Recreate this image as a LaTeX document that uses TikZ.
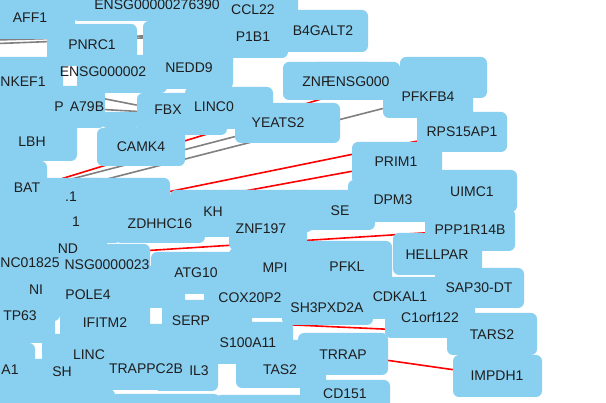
\documentclass[tikz,border=0pt]{standalone}
\usepackage{fontspec}
\setmainfont{Liberation Sans}
\pgfdeclarelayer{back}
\pgfdeclarelayer{edges}
\pgfdeclarelayer{labels}
\pgfsetlayers{back,edges,main,labels}
\definecolor{nodeblue}{RGB}{137,207,240}
\definecolor{txt}{RGB}{30,30,30}
\definecolor{edgegray}{RGB}{128,128,128}
\definecolor{edgered}{RGB}{255,0,0}
\tikzset{
  bx/.style={fill=nodeblue, draw=none, rounded corners=6pt, inner sep=0pt, shape=rectangle},
  lbl/.style={text=txt, inner sep=0pt, font=\fontsize{14}{16}\selectfont, text height=10pt, text depth=0pt},
  gline/.style={draw=edgegray, line width=1.6pt},
  rline/.style={draw=edgered, line width=1.6pt}
}
\newcommand{\bx}[5]{\node[bx, minimum width=#4pt, minimum height=#5pt] (#1) at (#2,#3) {};}
\newcommand{\lb}[4]{\node[lbl] (#1) at (#2,#3) {#4};}
\begin{document}
\begin{tikzpicture}[x=1pt,y=-1pt]
\useasboundingbox (0,0) rectangle (606,403);
\begin{pgfonlayer}{back}
\fill[white] (0,0) rectangle (606,403);
\end{pgfonlayer}
% boxes
\bx{nAFF1}{30}{18}{90}{42}
\bx{nENSGa}{157}{0}{170}{42}
\bx{nCCL22}{253}{10}{90}{42}
\bx{nP1B1}{243}{37}{90}{42}
\bx{nB4GALT2}{323}{31}{90}{42}
\bx{nPNRC1}{92}{45}{90}{42}
\bx{nDRGX}{188}{44}{90}{46}
\bx{nNEDD9}{188}{68}{90}{42}
\bx{nENSGb}{122}{74}{90}{38}
\bx{nNKEF1}{19}{82}{88}{50}
\bx{nPA79B}{60}{107}{90}{42}
\bx{nPAx}{121}{120}{40}{16}
\bx{nFBX}{182}{114}{90}{42}
\bx{nLINC0}{229}{108}{88}{42}
\bx{nYEATS2}{287.5}{123}{105}{40}
\bx{nZNF}{328}{81}{90}{38}
\bx{nENSGc}{355}{81}{90}{38}
\bx{nOTPC}{443.5}{77.5}{87}{41}
\bx{nPFKFB4}{428}{97}{90}{42}
\bx{nRPS}{462}{132}{90}{40}
\bx{nLBH}{32}{134}{90}{54}
\bx{nCAMK4}{141}{147}{88}{38}
\bx{nBAT}{2}{197}{90}{72}
\bx{nDot}{60}{191}{90}{26}
\bx{nOne}{76}{222}{90}{42}
\bx{nCTCV}{125}{199}{90}{42}
\bx{nZDHHC}{160}{222}{90}{42}
\bx{nKH}{215}{213.5}{90}{47}
\bx{nFBPL}{268}{211}{90}{42}
\bx{nSE}{330}{210}{90}{40}
\bx{nPRIM1}{397}{163}{90}{42}
\bx{nDPM3}{393}{201}{90}{42}
\bx{nUIMC1}{472}{191}{90}{42}
\bx{nPPP}{470}{230}{90}{42}
\bx{nHELL}{437.5}{254}{89}{42}
\bx{nZNF197}{268}{229}{78}{42}
\bx{nLINC18}{15}{258}{90}{52}
\bx{nND}{62}{256}{90}{42}
\bx{nENSGd}{105}{265}{90}{42}
\bx{nATG10}{196}{273}{90}{42}
\bx{nMPI}{274}{269}{90}{42}
\bx{nPFKL}{347}{266}{90}{50}
\bx{nPOLE4}{88}{295}{90}{42}
\bx{nNI}{15}{300}{90}{42}
\bx{nRL}{140}{287}{90}{42}
\bx{nCOX}{249}{297}{90}{42}
\bx{nSH3}{327.5}{304}{91}{42}
\bx{nCDKAL1}{400}{298}{90}{42}
\bx{nC1orf}{430}{317.5}{90}{41}
\bx{nSAP}{479.5}{288}{89}{40}
\bx{nTP63}{10}{320}{90}{46}
\bx{nIFITM2}{105}{323}{90}{42}
\bx{nSERP}{207}{321}{90}{42}
\bx{nS100}{248}{343}{90}{42}
\bx{nTRRAP}{343}{354}{90}{42}
\bx{nLINC}{87}{355}{90}{42}
\bx{nF227}{172}{345}{90}{42}
\bx{nTRAPPC}{146}{369}{90}{42}
\bx{nIL3}{186}{370}{64}{42}
\bx{nTAS2}{281}{364}{90}{48}
\bx{nA1}{-10}{368}{90}{50}
\bx{nSH}{62}{380}{90}{42}
\bx{nDMC}{65}{410}{100}{42}
\bx{nB338}{-10}{395}{90}{42}
\bx{nBotA}{165}{415}{110}{42}
\bx{nBotB}{260}{416}{90}{42}
\bx{nCD151}{345}{401}{90}{42}
\bx{nTARS2}{492}{334}{90}{42}
\bx{nIMPDH1}{497.5}{376}{89}{42}
% free ends
\coordinate (offA) at (-40,45);
\coordinate (offB) at (-40,41);
\coordinate (e6end) at (357,88);
\coordinate (h1) at (20,222);
% edges
\begin{pgfonlayer}{edges}
\draw[gline] (offA) -- (nB4GALT2);
\draw[gline] (offB) -- (nB4GALT2);
\draw[gline] (nNKEF1) -- (nFBX);
\draw[gline] (nPA79B) -- (nFBX);
\draw[gline] (nDot) -- (nPFKFB4);
\draw[rline] (nBAT) -- (e6end);
\draw[gline] (nBAT) -- (nYEATS2);
\draw[rline] (nOne) -- (nPRIM1);
\draw[rline] (h1) -- (nRPS);
\draw[rline] (nND) -- (nPPP);
\draw[rline] (nTRRAP) -- (nIMPDH1);
\draw[rline] (nSERP) -- (nTARS2);
\end{pgfonlayer}
% labels
\begin{pgfonlayer}{labels}
\lb{tAFF1}{30}{18}{AFF1}
\lb{tENSGa}{157}{5}{ENSG00000276390}
\lb{tCCL22}{253}{10}{CCL22}
\lb{tP1B1}{253}{37}{P1B1}
\lb{tB4GALT2}{323}{31}{B4GALT2}
\lb{tPNRC1}{92}{45}{PNRC1}
\lb{tNEDD9}{189}{68}{NEDD9}
\lb{tENSGb}{103}{72}{ENSG000002}
\lb{tNKEF1}{23}{82}{NKEF1}
\lb{tP}{59}{107}{P}
\lb{tA79B}{87}{107}{A79B}
\lb{tFBX}{168}{110}{FBX}
\lb{tLINC0}{214}{107}{LINC0}
\lb{tZNF}{316}{82}{ZNF}
\lb{tENSGc}{358}{82}{ENSG000}
\lb{tPFKFB4}{428}{97}{PFKFB4}
\lb{tCAMK4}{141}{147}{CAMK4}
\lb{tYEATS2}{278}{123}{YEATS2}
\lb{tRPS}{462}{132}{RPS15AP1}
\lb{tLBH}{32}{142}{LBH}
\lb{tPRIM1}{396}{162}{PRIM1}
\lb{tBAT}{27}{188}{BAT}
\lb{tDot}{71}{197}{.1}
\lb{tOne}{76}{222}{1}
\lb{tZDHHC}{160}{224}{ZDHHC16}
\lb{tKH}{213}{212}{KH}
\lb{tSE}{340}{211}{SE}
\lb{tDPM3}{393}{200}{DPM3}
\lb{tUIMC1}{472}{192}{UIMC1}
\lb{tZNF197}{261}{229}{ZNF197}
\lb{tPPP}{470}{230}{PPP1R14B}
\lb{tHELL}{437}{255}{HELLPAR}
\lb{tNC}{30}{263}{NC01825}
\lb{tND}{68}{249}{ND}
\lb{tENSGd}{107}{265}{NSG0000023}
\lb{tATG10}{196}{273}{ATG10}
\lb{tMPI}{275}{268}{MPI}
\lb{tPFKL}{347}{267}{PFKL}
\lb{tNI}{36}{290}{NI}
\lb{tPOLE4}{88}{295}{POLE4}
\lb{tCOX}{250}{298}{COX20P2}
\lb{tSH3}{327}{308}{SH3PXD2A}
\lb{tCDKAL1}{400}{297}{CDKAL1}
\lb{tSAP}{479}{288}{SAP30-DT}
\lb{tC1orf}{430}{318}{C1orf122}
\lb{tTP63}{20}{316}{TP63}
\lb{tIFITM2}{105}{323}{IFITM2}
\lb{tSERP}{191}{321}{SERP}
\lb{tS100}{248}{343}{S100A11}
\lb{tTARS2}{492}{335}{TARS2}
\lb{tLINC}{89}{355}{LINC}
\lb{tTRRAP}{343}{355}{TRRAP}
\lb{tA1}{10}{370}{A1}
\lb{tSH}{62}{372}{SH}
\lb{tTRAPPC}{146}{369}{TRAPPC2B}
\lb{tIL3}{199}{371}{IL3}
\lb{tTAS2}{280}{370}{TAS2}
\lb{tIMPDH1}{497}{376}{IMPDH1}
\lb{tCD151}{345}{394}{CD151}
\end{pgfonlayer}
\end{tikzpicture}
\end{document}
